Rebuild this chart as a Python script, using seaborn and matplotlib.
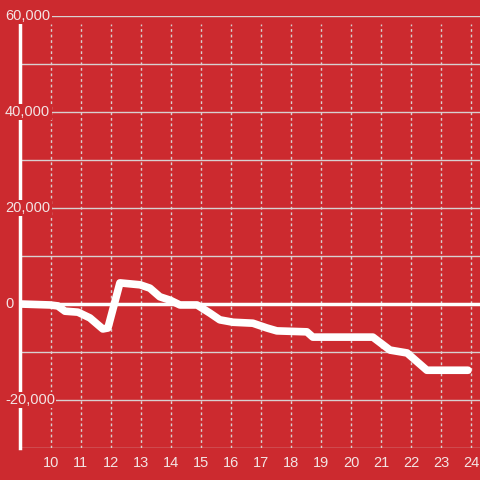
import matplotlib
matplotlib.use("Agg")
import matplotlib.pyplot as plt
import seaborn as sns
import pandas as pd

# values
hours = [8.97, 9.97, 10.23, 10.47, 10.9, 11.3, 11.73, 11.9, 12.3, 12.97, 13.3, 13.63,
         13.97, 14.3, 14.87, 15.3, 15.63, 16.07, 16.73, 17.2, 17.53, 18.53, 18.73,
         20.73, 21.3, 21.87, 22.53, 23.9]
balance = [0, -200, -400, -1500, -1700, -2900, -5200, -5000, 4400, 4000, 3300, 1500,
           800, -200, -200, -1900, -3300, -3800, -4000, -5000, -5600, -5800, -6900,
           -6900, -9600, -10200, -13800, -13800]
x_ticks = list(range(10, 25))
y_labels = [60000, 40000, 20000, 0, -20000]

bg = "#cc2a2f"
grid_col = "#d8d0d0"
text_col = "#f3e4e4"

df = pd.DataFrame({"hour": hours, "balance": balance})

sns.set_style("white")
plt.rcParams["font.family"] = ["Liberation Sans", "DejaVu Sans"]

fig = plt.figure(figsize=(4.8, 4.8), dpi=100, facecolor=bg)
ax = fig.add_axes([20 / 480, 32 / 480, 460 / 480, 432 / 480])
ax.set_facecolor(bg)

ax.set_xlim(8.97, 24.3)
ax.set_ylim(-30000, 60000)

# grid lines
for v in range(-30000, 60001, 10000):
    ax.axhline(v, color=grid_col, lw=1, zorder=1)
for t in x_ticks:
    ax.axvline(t, color=grid_col, lw=1, ls=(0, (2, 2)), ymax=0.981, zorder=1)
ax.axhline(0, color="white", lw=2.5, zorder=2)

sns.lineplot(data=df, x="hour", y="balance", ax=ax, color="white", lw=5.5, zorder=3)

for s in ["top", "right", "bottom"]:
    ax.spines[s].set_visible(False)
ax.spines["left"].set_color("white")
ax.spines["left"].set_linewidth(2.5)
ax.spines["left"].set_zorder(2)
ax.spines["left"].set_bounds(-30000, 58300)

ax.set_xticks(x_ticks)
ax.set_xticklabels([str(t) for t in x_ticks])
ax.tick_params(axis="x", length=0, pad=6, labelsize=10.5, colors=text_col)
ax.set_yticks([])
ax.set_xlabel("")
ax.set_ylabel("")

for v in y_labels:
    ax.text(-15 / 460, v, f"{v:,}", transform=ax.get_yaxis_transform(),
            ha="left", va="center", fontsize=10.5, color=text_col, zorder=5,
            bbox=dict(boxstyle="square,pad=0.1", fc=bg, ec="none"))

fig.savefig("out.png", dpi=100, facecolor=bg)
